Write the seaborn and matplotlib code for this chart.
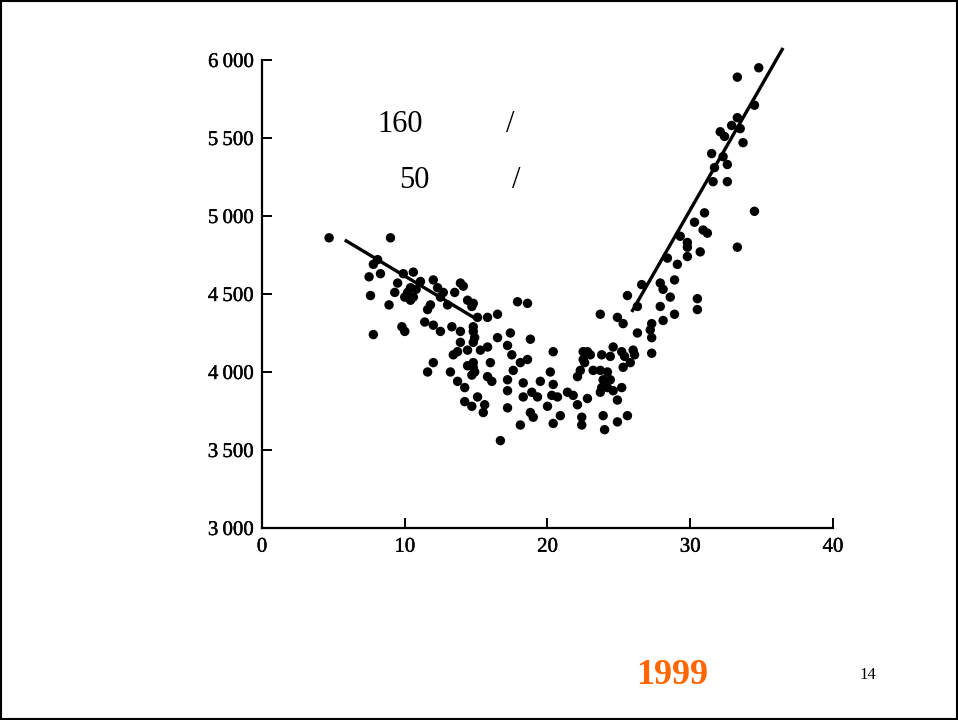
import numpy as np
import pandas as pd
import matplotlib
matplotlib.use('Agg')
import matplotlib.pyplot as plt
import matplotlib.patheffects as pe
import seaborn as sns
from matplotlib.patches import Rectangle
from matplotlib.ticker import FuncFormatter

# scatter values
x_vals = [4.7, 9.0, 8.1, 7.8, 7.5, 8.3, 7.6, 8.9, 7.8, 9.5, 9.9, 10.6, 9.3, 10.2, 10.6,
          10.4, 11.1, 9.8, 10.0, 12.0, 12.3, 12.7, 12.5, 13.5, 13.9, 14.1, 11.8, 11.6, 13.0,
          14.4, 14.7, 15.1, 11.4, 12.0, 12.5, 13.3, 13.9, 14.8, 14.9, 13.9, 13.7, 13.4, 14.4,
          14.4, 14.8, 14.7, 12.0, 11.6, 13.2, 13.7, 14.2, 14.2, 15.1, 14.7, 10.0, 10.8, 10.4,
          14.8, 15.8, 16.5, 17.9, 18.6, 14.8, 16.5, 17.4, 18.8, 14.8, 15.3, 15.8, 14.8, 16.0,
          17.2, 17.5, 18.1, 18.6, 17.6, 17.2, 15.8, 16.1, 14.9, 15.6, 15.5, 17.2, 17.2, 18.3,
          18.3, 18.9, 19.3, 19.5, 20.4, 20.2, 20.4, 20.3, 20.7, 20.0, 20.9, 20.4, 18.8, 19.0,
          18.1, 16.7, 21.4, 21.8, 22.1, 22.8, 22.4, 22.4, 22.1, 22.3, 22.6, 22.5, 23.0, 23.2,
          23.7, 24.2, 23.9, 24.4, 23.8, 24.6, 25.2, 25.4, 25.3, 23.8, 24.6, 25.2, 24.9, 23.9,
          24.9, 24.0, 25.6, 23.7, 24.9, 25.3, 25.6,
          31.0, 30.3, 30.9, 29.3, 29.8, 29.8, 30.7, 28.4, 29.1, 26.6, 27.9, 28.9, 28.1, 28.6,
          26.3, 27.9, 30.5, 30.5, 28.9, 28.1, 27.3, 27.2, 27.3, 26.3, 26.0, 26.1, 25.8, 27.3,
          22.8, 24.4, 22.5, 24.2, 23.7,
          34.8, 33.3, 34.5, 33.3, 32.9, 33.5, 32.1, 32.4, 33.7, 31.5, 32.3, 31.7, 32.6, 31.6,
          32.6, 34.5, 31.2, 29.8, 33.3]
y_vals = [4860, 4860, 4720, 4690, 4610, 4630, 4490, 4430, 4240, 4570, 4630, 4640, 4510, 4510, 4480,
          4540, 4580, 4290, 4260, 4590, 4540, 4510, 4480, 4510, 4570, 4550, 4430, 4400, 4430,
          4460, 4420, 4350, 4320, 4300, 4260, 4290, 4260, 4260, 4220, 4190, 4130, 4110, 4140,
          4040, 4030, 3980, 4060, 4000, 4000, 3940, 3900, 3810, 3840, 3780, 4480, 4530, 4460,
          4440, 4350, 4370, 4450, 4440, 4290, 4220, 4250, 4210, 4190, 4140, 4160, 4060, 4060,
          4170, 4110, 4060, 4080, 4010, 3950, 3970, 3940, 4000, 3790, 3740, 3880, 3770, 3930,
          3840, 3870, 3840, 3940, 4130, 4000, 3920, 3850, 3840, 3780, 3720, 3670, 3740, 3710,
          3660, 3560, 3870, 3850, 3790, 3830, 3710, 3660, 3970, 4010, 4060, 4130, 4110, 4010,
          4010, 4000, 3950, 3950, 4110, 4160, 4130, 4100, 4030, 3900, 3880, 3900, 3820, 3720,
          3680, 3630, 3720, 4370, 4350, 4310, 4490,
          5020, 4960, 4910, 4870, 4830, 4740, 4770, 4730, 4690, 4560, 4570, 4590, 4530, 4480,
          4420, 4420, 4470, 4400, 4370, 4330, 4310, 4270, 4220, 4250, 4140, 4110, 4060, 4120,
          4130, 4100, 4080, 3900, 3870,
          5950, 5890, 5710, 5630, 5580, 5560, 5540, 5510, 5470, 5400, 5380, 5310, 5330, 5220,
          5220, 5030, 4890, 4800, 4800]

# two trend lines drawn on the original
left_x = [5.8, 14.9]
left_y = [4846, 4346]
right_x = [25.9, 36.5]
right_y = [4385, 6077]

x_ticks = [0, 10, 20, 30, 40]
y_ticks = [3000, 3500, 4000, 4500, 5000, 5500, 6000]

df = pd.DataFrame({'x': x_vals, 'y': y_vals})

sns.set_style('ticks')
plt.rcParams['font.family'] = ['Liberation Serif', 'DejaVu Serif']
plt.rcParams['text.color'] = 'black'

fig = plt.figure(figsize=(9.58, 7.2), dpi=100)
ax = fig.add_axes([0.2735, 0.2667, 0.596, 0.65])

sns.scatterplot(data=df, x='x', y='y', ax=ax, color='black', s=46,
                edgecolor='none', legend=False)
ax.plot(left_x, left_y, color='black', lw=2.4, solid_capstyle='butt', clip_on=False)
ax.plot(right_x, right_y, color='black', lw=2.4, solid_capstyle='butt', clip_on=False)

ax.set_xlim(0, 40)
ax.set_ylim(3000, 6000)
ax.set_xticks(x_ticks)
ax.set_yticks(y_ticks)
ax.yaxis.set_major_formatter(FuncFormatter(lambda v, p: f'{int(v):,}'.replace(',', '\u2009')))
ax.set_xlabel('')
ax.set_ylabel('')
ax.spines[['top', 'right']].set_visible(False)
for s in ['left', 'bottom']:
    ax.spines[s].set_linewidth(1.6)
    ax.spines[s].set_color('black')
ax.tick_params(axis='both', which='major', direction='in', length=7, width=1.4,
               colors='black', labelsize=15, pad=6, bottom=True, left=True)
ax.tick_params(axis='x', pad=7)
# slightly heavier digits, like the scanned original
for lab in ax.get_xticklabels() + ax.get_yticklabels():
    lab.set_path_effects([pe.withStroke(linewidth=0.3, foreground='black')])
ax.patch.set_alpha(0)

fig.text(0.418, 0.827, '160', fontsize=22, ha='center', va='center')
fig.text(0.533, 0.827, '/', fontsize=22, ha='center', va='center')
fig.text(0.432, 0.749, '50', fontsize=22, ha='center', va='center')
fig.text(0.539, 0.749, '/', fontsize=22, ha='center', va='center')
fig.text(0.702, 0.062, '1999', fontsize=26, fontweight='bold', color='#FF6600',
         ha='center', va='center')
fig.text(0.906, 0.062, '14', fontsize=12, ha='center', va='center')

fig.patches.append(Rectangle((0.001, 0.0015), 0.998, 0.997, transform=fig.transFigure,
                             fill=False, edgecolor='black', lw=1.5))

fig.savefig('out.png', dpi=100)
